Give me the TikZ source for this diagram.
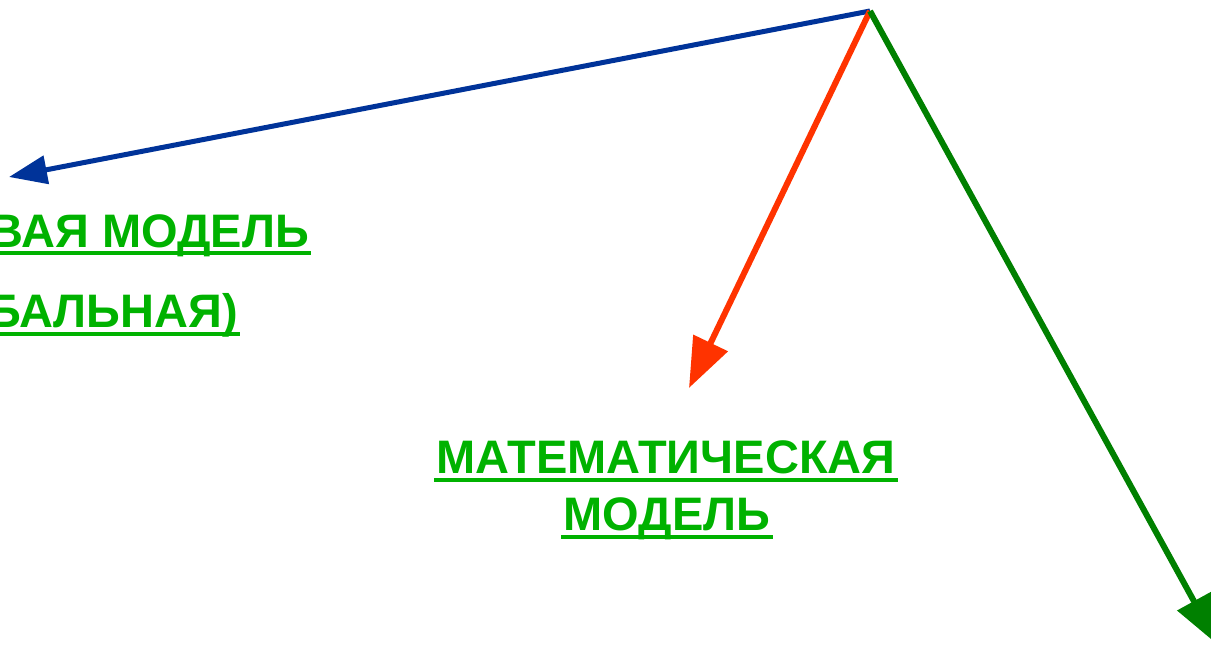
\documentclass[tikz,border=0pt]{standalone}
\usepackage{fontspec}
\setmainfont{Liberation Sans}
\usetikzlibrary{arrows.meta}
\definecolor{txtgreen}{RGB}{0,178,0}
\definecolor{arrblue}{RGB}{0,51,153}
\definecolor{arrred}{RGB}{255,51,0}
\definecolor{arrgreen}{RGB}{0,128,0}
\begin{document}
\begin{tikzpicture}[x=1pt,y=-1pt,
  lbl/.style={font=\fontsize{47}{47}\selectfont\bfseries, text=txtgreen, inner sep=0pt},
  ul/.style={draw=txtgreen, line width=4pt},
  arr/.style={line width=6pt, -{Triangle[length=50pt,width=37pt]}}]
\useasboundingbox (0,0) rectangle (1211,646);
\clip (0,0) rectangle (1211,646);
\coordinate (o) at (870,11);
\coordinate (b) at (9,177);
\coordinate (r) at (689,388);
\coordinate (g) at (1218,645);
\draw[line width=5pt, arrblue, -{Triangle[length=38pt,width=28pt]}] (o) -- (b);
\draw[arr, arrred] (o) -- (r);
\draw[arr, arrgreen] (o) -- (g);
% left (clipped) text
\node[lbl, anchor=base east] (v1) at (309,247) {ВАЯ МОДЕЛЬ};
\node[lbl, anchor=base east] (v2) at (238,327) {БАЛЬНАЯ)};
\draw[ul] ([yshift=-6pt]v1.base west) -- ([yshift=-6pt,xshift=2pt]v1.base east);
\draw[ul] ([yshift=-7pt]v2.base west) -- ([yshift=-7pt,xshift=2pt]v2.base east);
% centre text
\node[lbl, anchor=base] (m1) at (666,473) {МАТЕМАТИЧЕСКАЯ};
\node[lbl, anchor=base] (m2) at (667,530) {МОДЕЛЬ};
\draw[ul] ([yshift=-7pt,xshift=-2pt]m1.base west) -- ([yshift=-7pt,xshift=2pt]m1.base east);
\draw[ul] ([yshift=-7pt,xshift=-2pt]m2.base west) -- ([yshift=-7pt,xshift=2pt]m2.base east);
\end{tikzpicture}
\end{document}
